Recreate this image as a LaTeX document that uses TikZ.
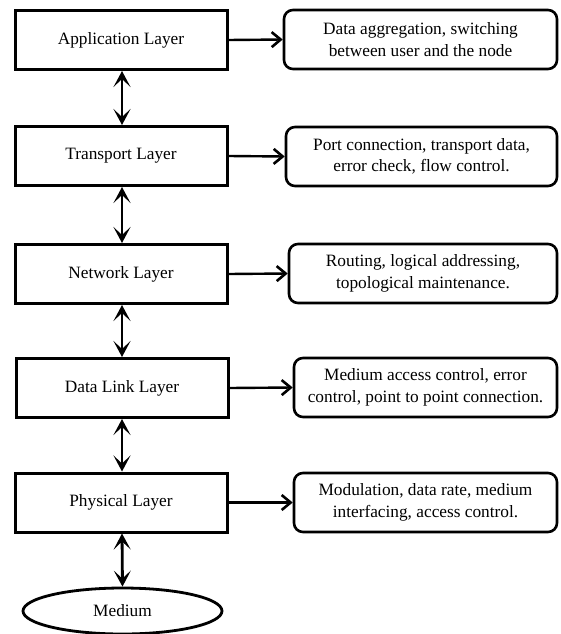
\documentclass[tikz,border=0pt]{standalone}
\usepackage{fontspec}
\setmainfont{Liberation Serif}
\usetikzlibrary{arrows.meta,shapes.geometric}
\begin{document}
\begin{tikzpicture}[x=1pt,y=-1pt,
  lbox/.style={draw,line width=3pt,rectangle,minimum width=212pt,minimum height=59pt,inner sep=0pt,font=\fontsize{17.3}{21.5}\selectfont},
  rbox/.style={draw,line width=2.6pt,rectangle,rounded corners=9pt,minimum height=59pt,inner sep=0pt,align=center,font=\fontsize{17.3}{21.5}\selectfont},
  harrow/.style={line width=2.4pt,-{Straight Barb[length=9pt,width=15pt,line width=2.6pt]}},
  varrow/.style={line width=2.8pt,{Stealth[length=16pt,width=17pt,inset=8pt]}-{Stealth[length=16pt,width=17pt,inset=8pt]}},
  medium/.style={draw,line width=2.8pt,ellipse,minimum width=199pt,minimum height=46pt,inner sep=0pt,font=\fontsize{17.3}{21.5}\selectfont}
]
\useasboundingbox (0,0) rectangle (560,634);
\node[lbox] (app) at (121,40) {Application Layer};
\node[lbox] (tra) at (121,156) {Transport Layer};
\node[lbox] (net) at (121,274) {Network Layer};
\node[lbox] (dll) at (122,388) {Data Link Layer};
\node[lbox] (phy) at (121,502.5) {Physical Layer};
\node[medium] (med) at (122.5,611) {Medium};

\node[rbox,minimum width=273pt] (r1) at (420.5,39.5) {Data aggregation, switching\\between user and the node};
\node[rbox,minimum width=271pt] (r2) at (421.5,156.5) {Port connection, transport data,\\error check, flow control.};
\node[rbox,minimum width=268pt] (r3) at (423,273.5) {Routing, logical addressing,\\topological maintenance.};
\node[rbox,minimum width=263pt] (r4) at (425.5,387.5) {Medium access control, error\\control, point to point connection.};
\node[rbox,minimum width=263pt] (r5) at (425.5,502.5) {Modulation, data rate, medium\\interfacing, access control.};

\draw[harrow] (app.east) -- (r1.west);
\draw[harrow] (tra.east) -- (r2.west);
\draw[harrow] (net.east) -- (r3.west);
\draw[harrow] (dll.east) -- (r4.west);
\draw[harrow] (phy.east) -- (r5.west);

\draw[varrow] (app.south -| 122,0) -- (tra.north -| 122,0);
\draw[varrow] (tra.south -| 122,0) -- (net.north -| 122,0);
\draw[varrow] (net.south -| 122,0) -- (dll.north -| 122,0);
\draw[varrow] (dll.south -| 122,0) -- (phy.north -| 122,0);
\draw[varrow] (phy.south -| 122,0) -- (med.north);
\end{tikzpicture}
\end{document}
